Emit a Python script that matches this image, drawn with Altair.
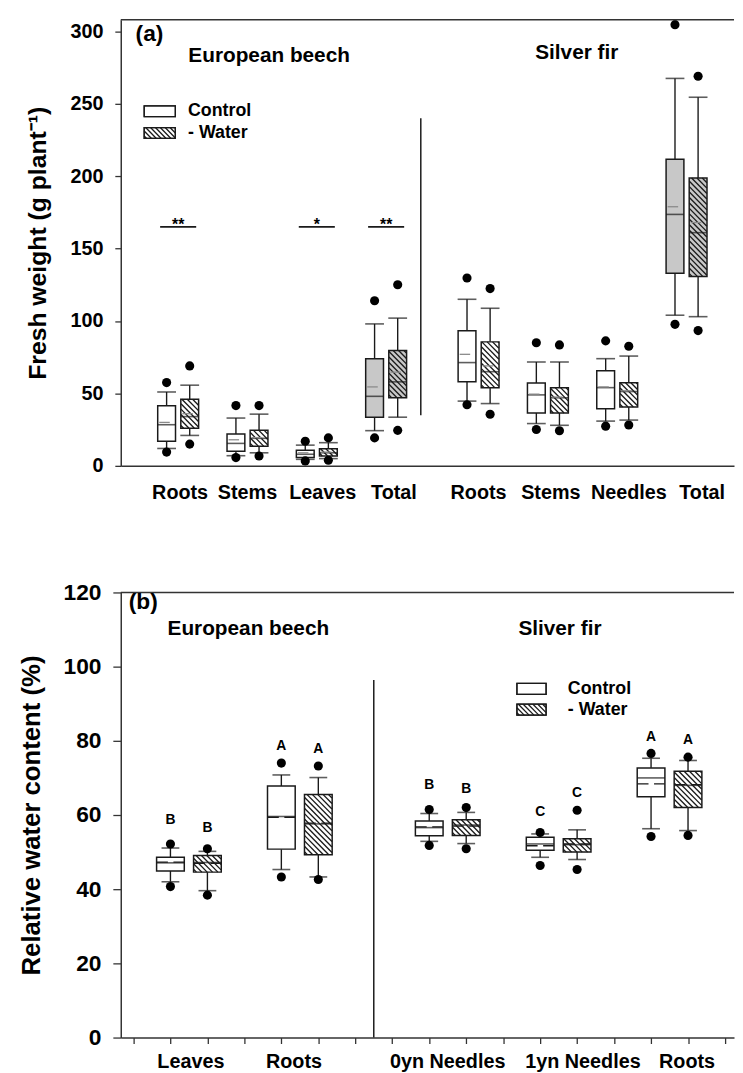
import altair as alt
import pandas as pd

FONT = "Liberation Sans"
INK = "#1a1a1a"

# ---------------- (a) fresh weight (g plant-1) ----------------
A_CATEGORIES = ["Roots", "Stems", "Leaves", "Total", "Roots", "Stems", "Needles", "Total"]
# per box: [low dot, low whisker, Q1, median, mean, Q3, high whisker, high dot]
A_CONTROL = [
    [9.5, 12, 17, 28.4, 30, 41.5, 51, 57.5],
    [5.7, 7, 10, 15.5, 18, 22, 33, 41.6],
    [3.4, 4.5, 5.7, 8, 9, 10.7, 14.3, 17],
    [19.3, 24.3, 33.6, 48, 54.5, 74, 98, 114],
    [42.2, 44.7, 58, 71.3, 77, 93.3, 115, 129.7],
    [25.1, 29.2, 36.5, 49, 49.5, 57.2, 71.7, 85],
    [27.4, 30.9, 39.5, 54, 54.5, 65.6, 74, 86.3],
    [97.7, 104, 133, 173.6, 178.9, 211.7, 267.5, 304.6],
]
A_WATER = [
    [15, 21, 26, 34, 36, 46, 55.7, 69],
    [6.8, 9, 13.6, 19, 19.5, 24.5, 35.7, 41.6],
    [3.9, 5, 6.8, 9, 9.5, 11.8, 16, 19.3],
    [24.5, 33.6, 47, 58, 64.7, 79.7, 102, 125],
    [35.6, 43, 54, 65, 69, 85.6, 108.8, 122.4],
    [24.2, 28, 36.5, 47, 47.5, 54, 71.7, 83.5],
    [28.2, 31.6, 40.6, 51.3, 51.8, 57.4, 75.8, 82.6],
    [93.4, 103, 130.8, 161, 168, 198.7, 254.5, 269],
]
A_SIGNIF = ["**", "", "*", "**", "", "", "", ""]
A_SIGNIF_LEVEL = 165
A_GREY_FILL = [False, False, False, True, False, False, False, True]
A_DIVIDER_RANGE = [35, 240]

# ---------------- (b) relative water content (%) ----------------
B_CATEGORIES = ["Leaves", "Roots", "0yn Needles", "1yn Needles", "Roots"]
B_CONTROL = [
    [40.7, 42.0, 44.9, 47.1, 47.3, 48.6, 51.1, 52.2],
    [43.3, 45.3, 50.8, 59.6, 59.4, 67.8, 70.8, 74.0],
    [51.8, 52.9, 54.4, 56.6, 56.8, 58.4, 60.4, 61.5],
    [46.4, 48.6, 50.5, 52.2, 51.7, 54.0, 54.9, 55.3],
    [54.2, 56.3, 64.9, 70.0, 68.4, 72.7, 75.3, 76.6],
]
B_WATER = [
    [38.4, 39.6, 44.6, 47.2, 47.0, 49.1, 50.2, 50.9],
    [42.6, 43.3, 49.3, 57.6, 57.8, 65.5, 70.1, 73.2],
    [50.9, 52.3, 54.5, 57.3, 57.0, 58.7, 60.7, 62.0],
    [45.3, 48.0, 50.0, 52.0, 52.2, 53.6, 56.0, 61.3],
    [54.5, 55.8, 62.0, 68.0, 68.2, 71.8, 74.7, 75.6],
]
B_LETTERS = ["B", "A", "B", "C", "A"]
B_LETTER_Y_CONTROL = [58.7, 78.7, 68.0, 60.9, 80.9]
B_LETTER_Y_WATER = [56.6, 77.8, 66.9, 66.0, 80.3]
B_DIVIDER_RANGE = [0, 96.4]

STATS = ["lo", "wlo", "q1", "med", "mean", "q3", "whi", "hi"]

# ---------------- layout ----------------
PA = dict(W=620, H=451, x0=-1.77, x1=24.34, y0=0, y1=308, bw=18, cap=19)
PB = dict(W=620, H=450, x0=-0.21, x1=16.11, y0=0, y1=120, bw=28, cap=18)
for P in (PA, PB):
    P["sx"] = P["W"] / (P["x1"] - P["x0"])
    P["sy"] = P["H"] / (P["y1"] - P["y0"])

a_slots = [3 * k + (1 if k >= 4 else 0) for k in range(len(A_CATEGORIES))]
b_slots = [1 + 3 * k + (1 if k >= 2 else 0) for k in range(len(B_CATEGORIES))]
A_DIVIDER_SLOT = 11
B_DIVIDER_SLOT = 6.5
# horizontal nudges (px) of the category labels, as placed in the original figure
A_LABEL_NUDGE = [2, 0, 6, 8, 0, 3, 12, 16]
B_LABEL_NUDGE = [2, -6, 0, 25, 18]


def box_frame(control, water, slots, P, grey=None, mean_full=False):
    rows = []
    hw = P["bw"] / 2 / P["sx"]
    for k in range(len(slots)):
        for g, vals, off in (("Control", control[k], 0), ("Water", water[k], 1)):
            r = dict(zip(STATS, vals))
            s = slots[k] + off
            r.update(slot=s, group=g,
                     fill="#c8c8c8" if (grey and grey[k]) else "#ffffff")
            if mean_full:
                r["mx1"], r["mx2"] = s - hw, s + hw
            else:
                r["mx1"], r["mx2"] = s - hw + 0.16 * hw, s - hw + 1.36 * hw
            rows.append(r)
    return pd.DataFrame(rows)


def hatch_lines(w, h, step):
    segs = []
    c = -h + step * 0.5
    while c < w:
        x0, y0 = (c, 0.0) if c >= 0 else (0.0, -c)
        x1, y1 = (c + h, h) if c + h <= w else (w, w - c)
        segs.append((x0, y0, x1, y1))
        c += step
    return segs


def hatch_box(left, top, wpx, hpx, P, step=5.5):
    """left/top in data units, sizes in px -> segments in data units"""
    out = []
    for x0, y0, x1, y1 in hatch_lines(wpx, hpx, step):
        out.append(dict(hx1=left + x0 / P["sx"], hy1=top - y0 / P["sy"],
                        hx2=left + x1 / P["sx"], hy2=top - y1 / P["sy"]))
    return out


def hatch_frame(df, P):
    rows = []
    for _, r in df[df.group == "Water"].iterrows():
        left = r.slot - P["bw"] / 2 / P["sx"]
        rows += hatch_box(left, r.q3, P["bw"], (r.q3 - r.q1) * P["sy"], P)
    return pd.DataFrame(rows)


def px2x(px, P):
    return P["x0"] + px / P["sx"]


def px2y(py, P):
    return P["y1"] - py / P["sy"]


def note(text, x, y, size, align="center", baseline="middle"):
    return alt.Chart(pd.DataFrame({"t": [text]})).mark_text(
        font=FONT, fontSize=size, fontWeight="bold", align=align,
        baseline=baseline, color="black").encode(
        x=alt.value(x), y=alt.value(y), text="t:N")


def legend_layers(P, X, Y, left, w, ctrl_top, water_top, h, text_x, fs):
    rects = pd.DataFrame([
        dict(lx1=px2x(left, P), lx2=px2x(left + w, P), ly1=px2y(ctrl_top, P), ly2=px2y(ctrl_top + h, P)),
        dict(lx1=px2x(left, P), lx2=px2x(left + w, P), ly1=px2y(water_top, P), ly2=px2y(water_top + h, P)),
    ])
    hatch = pd.DataFrame(hatch_box(px2x(left, P), px2y(water_top, P), w, h, P, step=5))
    return [
        alt.Chart(rects).mark_rect(fill="white", stroke=INK, strokeWidth=1.3).encode(
            x=X("lx1"), x2="lx2", y=Y("ly1"), y2="ly2"),
        alt.Chart(hatch).mark_rule(color=INK, strokeWidth=1.3).encode(
            x=X("hx1"), x2="hx2", y=Y("hy1"), y2="hy2"),
        alt.Chart(rects).mark_rect(fill="transparent", stroke=INK, strokeWidth=1.3).encode(
            x=X("lx1"), x2="lx2", y=Y("ly1"), y2="ly2"),
        note("Control", text_x, ctrl_top + h / 2, fs, align="left"),
        note("- Water", text_x, water_top + h / 2, fs, align="left"),
    ]


def panel_core(P, df, hatch, cats, slots, nudges, xaxis, yaxis, mean_style):
    xs = alt.Scale(domain=[P["x0"], P["x1"]], nice=False, zero=False)
    ys = alt.Scale(domain=[P["y0"], P["y1"]], nice=False, zero=False)

    def X(f):
        return alt.X(f, type="quantitative", scale=xs, axis=xaxis)

    def Y(f):
        return alt.Y(f, type="quantitative", scale=ys, axis=yaxis)

    base = alt.Chart(df)
    layers = [
        base.mark_rule(color=INK, strokeWidth=1.4).encode(x=X("slot"), y=Y("wlo"), y2="q1"),
        base.mark_rule(color=INK, strokeWidth=1.4).encode(x=X("slot"), y=Y("q3"), y2="whi"),
        base.mark_tick(orient="horizontal", size=P["cap"], thickness=1.6, color=INK).encode(
            x=X("slot"), y=Y("wlo")),
        base.mark_tick(orient="horizontal", size=P["cap"], thickness=1.6, color=INK).encode(
            x=X("slot"), y=Y("whi")),
        base.mark_bar(size=P["bw"], strokeWidth=0).encode(
            x=X("slot"), y=Y("q1"), y2="q3", fill=alt.Fill("fill:N", scale=None)),
        alt.Chart(hatch).mark_rule(color=INK, strokeWidth=1.35).encode(
            x=X("hx1"), x2="hx2", y=Y("hy1"), y2="hy2"),
        base.mark_bar(size=P["bw"], fill="transparent", stroke=INK, strokeWidth=1.5).encode(
            x=X("slot"), y=Y("q1"), y2="q3"),
        base.mark_tick(orient="horizontal", size=P["bw"], thickness=1.6, color=INK).encode(
            x=X("slot"), y=Y("med")),
    ]
    if mean_style == "dash":
        layers.append(base.mark_rule(color=INK, strokeWidth=1.4,
                                     strokeDash=[P["bw"] * 0.4, P["bw"] * 0.2]).encode(
            x=X("mx1"), x2="mx2", y=Y("mean")))
    else:
        layers.append(base.mark_rule(color="#8a8a8a", strokeWidth=1.3).encode(
            x=X("mx1"), x2="mx2", y=Y("mean")))
    layers += [
        base.mark_circle(size=85, color="black", opacity=1).encode(x=X("slot"), y=Y("lo")),
        base.mark_circle(size=85, color="black", opacity=1).encode(x=X("slot"), y=Y("hi")),
    ]
    lab = pd.DataFrame({"label": cats,
                        "center": [s + 0.5 + n / P["sx"] for s, n in zip(slots, nudges)]})
    return layers, X, Y, lab


# ---------------- panel (a) ----------------
dfa = box_frame(A_CONTROL, A_WATER, a_slots, PA, grey=A_GREY_FILL)
hta = hatch_frame(dfa, PA)
xaxis_a = alt.Axis(title=None, labels=False, ticks=False, grid=False, domain=True)
yaxis_a = alt.Axis(title="Fresh weight (g plant\u207b\u00b9)", values=list(range(0, 301, 50)),
                   labelFontSize=20, titleFontSize=25, tickSize=6, labelPadding=12,
                   titlePadding=20, grid=False)
la, XA, YA, laba = panel_core(PA, dfa, hta, A_CATEGORIES, a_slots, A_LABEL_NUDGE,
                              xaxis_a, yaxis_a, "part")

sig = pd.DataFrame({
    "center": [s + 0.5 for s, t in zip(a_slots, A_SIGNIF) if t],
    "txt": [t for t in A_SIGNIF if t],
})
sig["sx1"] = sig.center - 0.78
sig["sx2"] = sig.center + 0.78
sig["level"] = A_SIGNIF_LEVEL
sig["tl"] = A_SIGNIF_LEVEL - 2.5
div_a = pd.DataFrame({"x": [A_DIVIDER_SLOT], "ya": [A_DIVIDER_RANGE[0]], "yb": [A_DIVIDER_RANGE[1]]})

la += [
    alt.Chart(sig).mark_rule(color=INK, strokeWidth=1.6).encode(
        x=XA("sx1"), x2="sx2", y=YA("level")),
    alt.Chart(sig).mark_text(font=FONT, fontSize=16, fontWeight="bold", baseline="alphabetic",
                             color="black").encode(x=XA("center"), y=YA("tl"), text="txt:N"),
    alt.Chart(div_a).mark_rule(color=INK, strokeWidth=1.5).encode(x=XA("x"), y=YA("ya"), y2="yb"),
    alt.Chart(pd.DataFrame({"a": [0]})).mark_rule(color="#333", strokeWidth=1.5).encode(
        x=alt.value(0), x2=alt.value(PA["W"]), y=alt.value(0)),
    alt.Chart(laba).mark_text(font=FONT, fontSize=20, fontWeight="bold", baseline="middle",
                              color="black").encode(x=XA("center"), y=alt.value(PA["H"] + 28),
                                                    text="label:N"),
    note("(a)", 15, 14, 23, align="left"),
    note("European beech", 150, 37, 21),
    note("Silver fir", 461, 34, 21),
]
la += legend_layers(PA, XA, YA, 19, 32, 87, 109, 11, 68, 18)
panel_a = alt.layer(*la).properties(width=PA["W"], height=PA["H"])

# ---------------- panel (b) ----------------
dfb = box_frame(B_CONTROL, B_WATER, b_slots, PB, mean_full=True)
htb = hatch_frame(dfb, PB)
xaxis_b = alt.Axis(title=None, labels=False, ticks=True, values=list(range(0, 17)),
                   tickSize=6, grid=False, domain=True)
yaxis_b = alt.Axis(title="Relative water content (%)", values=list(range(0, 121, 20)),
                   labelFontSize=23, titleFontSize=26, tickSize=8, labelPadding=12,
                   titlePadding=19, grid=False)
lb, XB, YB, labb = panel_core(PB, dfb, htb, B_CATEGORIES, b_slots, B_LABEL_NUDGE,
                              xaxis_b, yaxis_b, "dash")

letters = pd.DataFrame({
    "slot": b_slots + [s + 1 for s in b_slots],
    "ly": B_LETTER_Y_CONTROL + B_LETTER_Y_WATER,
    "txt": B_LETTERS + B_LETTERS,
})
div_b = pd.DataFrame({"x": [B_DIVIDER_SLOT], "ya": [B_DIVIDER_RANGE[0]], "yb": [B_DIVIDER_RANGE[1]]})
lb += [
    alt.Chart(letters).mark_text(font=FONT, fontSize=14, fontWeight="bold", baseline="middle",
                                 color="black").encode(x=XB("slot"), y=YB("ly"), text="txt:N"),
    alt.Chart(div_b).mark_rule(color=INK, strokeWidth=1.5).encode(x=XB("x"), y=YB("ya"), y2="yb"),
    alt.Chart(pd.DataFrame({"a": [0]})).mark_rule(color="#333", strokeWidth=1.5).encode(
        x=alt.value(0), x2=alt.value(PB["W"]), y=alt.value(0)),
    alt.Chart(labb).mark_text(font=FONT, fontSize=20, fontWeight="bold", baseline="middle",
                              color="black").encode(x=XB("center"), y=alt.value(PB["H"] + 25),
                                                    text="label:N"),
    note("(b)", 8, 10, 23, align="left"),
    note("European beech", 129, 37, 21),
    note("Sliver fir", 444, 37, 21),
]
lb += legend_layers(PB, XB, YB, 402, 30, 92, 113, 11, 452, 18)
panel_b = alt.layer(*lb).properties(width=PB["W"], height=PB["H"])

chart = alt.vconcat(panel_a, panel_b, spacing=79).properties(
    padding={"left": 10, "top": 5, "right": 0, "bottom": 0},
    background="white",
).configure_view(stroke=None).configure_axis(
    labelFont=FONT, titleFont=FONT, labelFontWeight="bold", titleFontWeight="bold",
    labelColor="black", titleColor="black", domainColor="#333", tickColor="#333",
    domainWidth=1.5, tickWidth=1.3, grid=False,
)

chart.save("out.html", embed_options={"renderer": "svg", "actions": False})
